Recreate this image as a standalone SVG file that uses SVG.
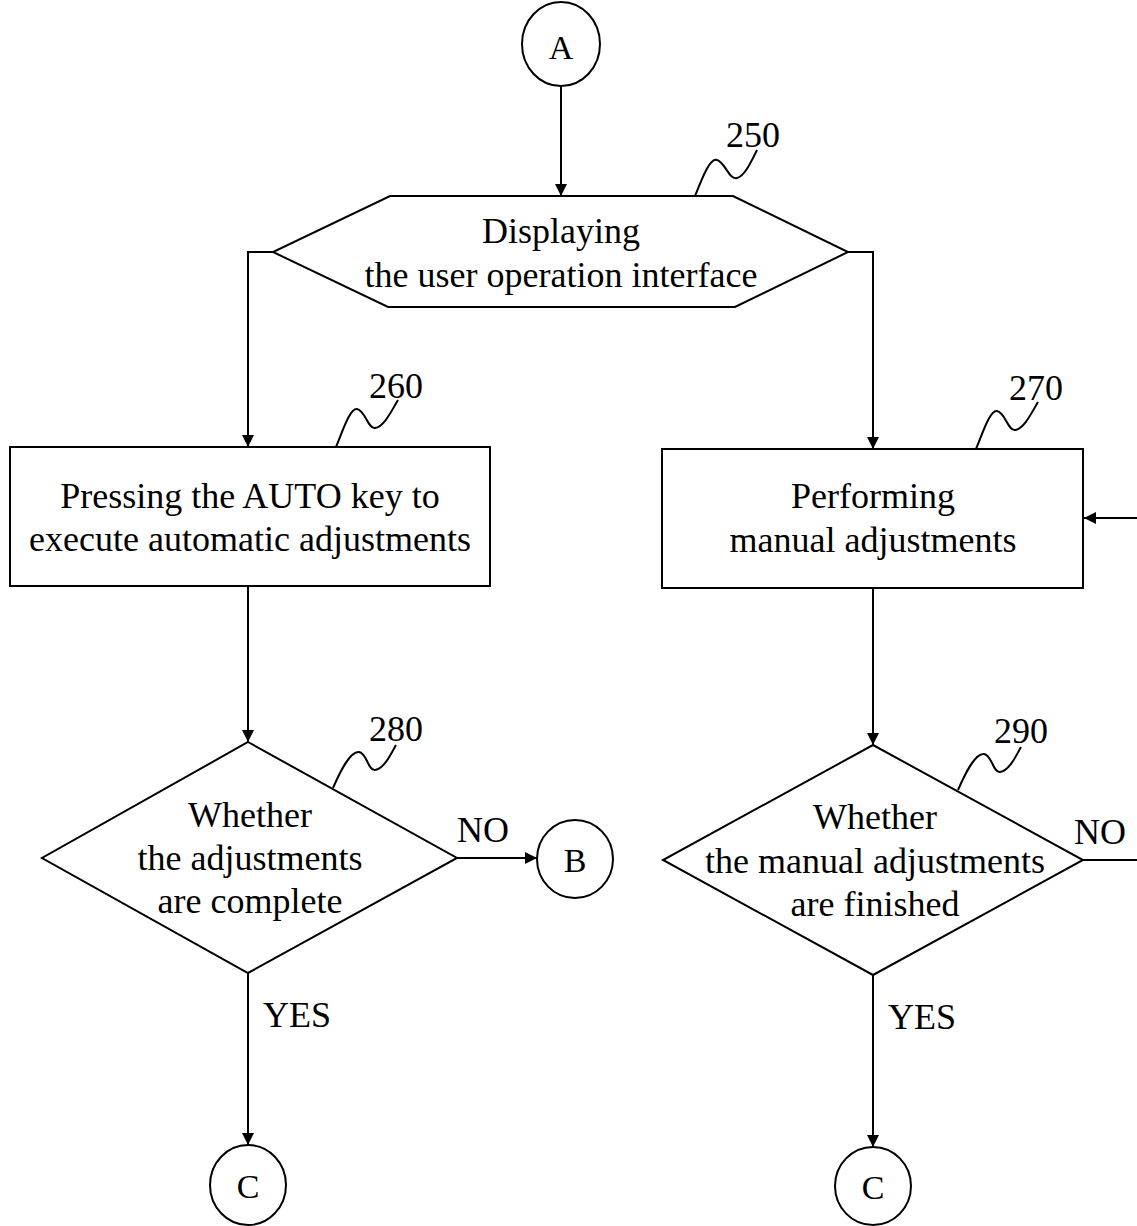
<svg xmlns="http://www.w3.org/2000/svg" width="1137" height="1226" viewBox="0 0 1137 1226">
<style>
.s{fill:#fff;stroke:#000;stroke-width:2}
.l{fill:none;stroke:#000;stroke-width:2}
.t{font-family:"Liberation Serif","Times New Roman",serif;font-size:36px;fill:#000;text-anchor:middle}
.c{font-family:"Liberation Serif","Times New Roman",serif;font-size:34px;fill:#000;text-anchor:middle}
.n{font-family:"Liberation Serif","Times New Roman",serif;font-size:36px;fill:#000}
</style>
<defs>
<marker id="ah" markerWidth="12" markerHeight="18" refX="12" refY="9" orient="auto" markerUnits="userSpaceOnUse">
<path d="M0,3 L12,9 L0,15 Z" fill="#000"/>
</marker>
</defs>
<g id="connectors">
<line class="l" x1="561" y1="86" x2="561" y2="196" marker-end="url(#ah)"/>
<polyline class="l" points="273,252 248,252 248,447" marker-end="url(#ah)"/>
<polyline class="l" points="848,252 873,252 873,449" marker-end="url(#ah)"/>
<line class="l" x1="248" y1="586" x2="248" y2="742" marker-end="url(#ah)"/>
<line class="l" x1="873" y1="588" x2="873" y2="745" marker-end="url(#ah)"/>
<line class="l" x1="457" y1="858" x2="537" y2="858" marker-end="url(#ah)"/>
<line class="l" x1="1083" y1="860" x2="1137" y2="860"/>
<line class="l" x1="1137" y1="518" x2="1084" y2="518" marker-end="url(#ah)"/>
<line class="l" x1="248" y1="973" x2="248" y2="1145" marker-end="url(#ah)"/>
<line class="l" x1="873" y1="975" x2="873" y2="1147" marker-end="url(#ah)"/>
<text class="n" x="457" y="842">NO</text>
<text class="n" x="1074" y="844">NO</text>
<text class="n" x="263" y="1027">YES</text>
<text class="n" x="888" y="1029">YES</text>
</g>
<g id="nodeA">
<ellipse class="s" cx="561" cy="44" rx="39" ry="42"/>
<text class="c" x="561" y="59">A</text>
</g>
<g id="node250">
<polygon class="s" points="390,196 733,196 848,252 735,307 388,307 273,252"/>
<text class="t" x="561" y="243">Displaying</text>
<text class="t" x="561" y="287">the user operation interface</text>
<path class="l" d="M695,196 C703,176 710,158 717,160 C725,162 729,180 737,178 C745,176 752,160 757,150"/>
<text class="n" x="726" y="147">250</text>
</g>
<g id="node260">
<rect class="s" x="10" y="447" width="480" height="139"/>
<text class="t" x="250" y="508">Pressing the AUTO key to</text>
<text class="t" x="250" y="551">execute automatic adjustments</text>
<path class="l" d="M336,447 C343,430 350,408 357,409 C365,410 368,429 375,428 C384,427 392,410 398,400"/>
<text class="n" x="369" y="398">260</text>
</g>
<g id="node270">
<rect class="s" x="662" y="449" width="421" height="139"/>
<text class="t" x="873" y="508">Performing</text>
<text class="t" x="873" y="552">manual adjustments</text>
<path class="l" d="M976,449 C983,432 990,410 997,411 C1005,412 1008,431 1015,430 C1024,429 1032,412 1038,402"/>
<text class="n" x="1009" y="400">270</text>
</g>
<g id="node280">
<polygon class="s" points="248,742 457,858 248,973 42,858"/>
<text class="t" x="250" y="827">Whether</text>
<text class="t" x="250" y="870">the adjustments</text>
<text class="t" x="250" y="913">are complete</text>
<path class="l" d="M333,788 C340,772 350,751 359,752 C367,753 368,771 375,770 C384,769 391,754 396,745"/>
<text class="n" x="369" y="741">280</text>
</g>
<g id="node290">
<polygon class="s" points="873,745 1083,860 873,975 663,860"/>
<text class="t" x="875" y="829">Whether</text>
<text class="t" x="875" y="873">the manual adjustments</text>
<text class="t" x="875" y="916">are finished</text>
<path class="l" d="M958,790 C965,774 975,753 984,754 C992,755 993,773 1000,772 C1009,771 1016,756 1021,747"/>
<text class="n" x="994" y="743">290</text>
</g>
<g id="nodeB">
<ellipse class="s" cx="575" cy="859" rx="38" ry="39"/>
<text class="c" x="575" y="872">B</text>
</g>
<g id="nodeC1">
<ellipse class="s" cx="248" cy="1185" rx="38" ry="40"/>
<text class="c" x="248" y="1198">C</text>
</g>
<g id="nodeC2">
<ellipse class="s" cx="873" cy="1186" rx="38" ry="39"/>
<text class="c" x="873" y="1199">C</text>
</g>
</svg>
